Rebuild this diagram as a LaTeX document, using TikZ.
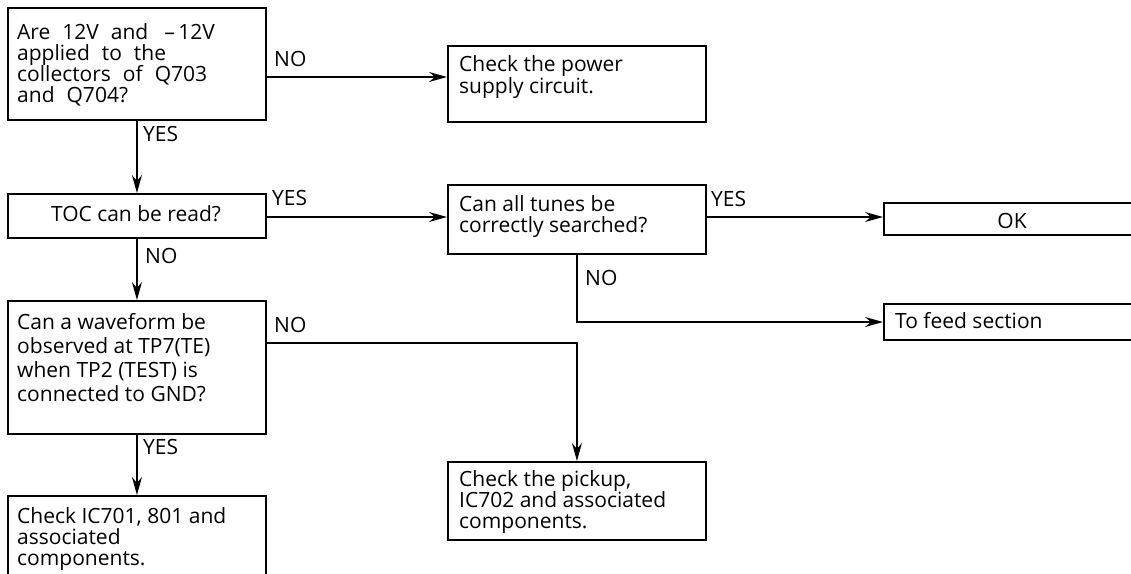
\documentclass[tikz,border=0pt]{standalone}
\usepackage{fontspec}
\setmainfont{Open Sans}
\usetikzlibrary{arrows.meta,calc}
\newcommand\mylines[1]{\vtop{\halign{##\hfil\cr#1\crcr}}}
\begin{document}
\begin{tikzpicture}[x=1pt,y=-1pt,
  box/.style={draw, line width=1.9pt, inner sep=0pt, anchor=north west},
  txt/.style={anchor=base west, inner sep=0pt, font=\fontsize{21}{21.2}\selectfont},
  lbl/.style={anchor=base west, inner sep=0pt, font=\fontsize{21}{21}\selectfont},
  arr/.style={line width=1.7pt, -{Stealth[length=18pt,width=10pt,inset=6pt]}},
  ln/.style={line width=1.7pt}]
\clip (0,0) rectangle (1131,573);
\fill[white] (0,0) rectangle (1131,573);
% boxes
\node[box, minimum width=258pt, minimum height=112pt] (q1) at (7,7) {};
\node[box, minimum width=258pt, minimum height=76pt] (power) at (447,45) {};
\node[box, minimum width=258pt, minimum height=44pt] (toc) at (7,193) {};
\node[box, minimum width=258pt, minimum height=69pt] (tune) at (447,184) {};
\node[box, minimum width=270pt, minimum height=32pt] (ok) at (883,202) {};
\node[box, minimum width=270pt, minimum height=36pt] (feed) at (883,303) {};
\node[box, minimum width=258pt, minimum height=133pt] (wave) at (7,300) {};
\node[box, minimum width=258pt, minimum height=78pt] (pickup) at (447,461) {};
\node[box, minimum width=258pt, minimum height=100pt] (ic) at (7,495) {};
% texts
\node[txt] (tq1) at (17,39) {\spaceskip=12pt plus 2pt\mylines{Are 12V and\hskip 16pt –\,12V\cr applied to the\cr collectors of Q703\cr and Q704?}};
\node[txt, font=\fontsize{21}{20}\selectfont] (tpower) at (459,71) {\mylines{Check the power\cr supply circuit.}};
\node[txt, anchor=base] (ttoc) at (136,221) {TOC can be read?};
\node[txt] (ttune) at (459,211) {\mylines{Can\ all tunes be\cr correctly searched?}};
\node[txt, anchor=base] (tok) at (1012,228) {OK};
\node[txt] (tfeed) at (895,328) {To feed section};
\node[txt, font=\fontsize{21}{24}\selectfont] (twave) at (17,329) {\mylines{Can\ a waveform be\cr observed at TP7(TE)\cr when TP2 (TEST)\ is\cr connected to GND?}};
\node[txt] (tpickup) at (459,486) {\mylines{Check the pickup,\cr IC702 and associated\cr components.}};
\node[txt] (tic) at (17,523) {\mylines{Check IC701, 801\ and\cr associated\cr components.}};
% helper coordinates
\coordinate (y77) at (0,77);
\coordinate (y217) at (0,217);
\coordinate (y343) at (0,343);
\coordinate (y322) at (0,322);
\coordinate (x577) at (577,0);
% connectors
\draw[arr] (q1.east |- y77) -- (power.west |- y77);
\draw[arr] (q1.south) -- (toc.north);
\draw[arr] (toc.east |- y217) -- (tune.west |- y217);
\draw[arr] (toc.south) -- (wave.north);
\draw[arr] (wave.south) -- (ic.north);
\draw[arr] (wave.east |- y343) -| (pickup.north);
\draw[arr] (tune.east |- y217) -- (ok.west |- y217);
\draw[arr] (tune.south -| x577) |- (feed.west |- y322);
% labels
\node[lbl] (l1) at (274,66) {NO};
\node[lbl] (l2) at (143,141) {YES};
\node[lbl] (l3) at (272,205) {YES};
\node[lbl] (l4) at (145,263) {NO};
\node[lbl] (l5) at (274,332) {NO};
\node[lbl] (l6) at (143,454) {YES};
\node[lbl] (l7) at (711,206) {YES};
\node[lbl] (l8) at (585,285) {NO};
\end{tikzpicture}
\end{document}
